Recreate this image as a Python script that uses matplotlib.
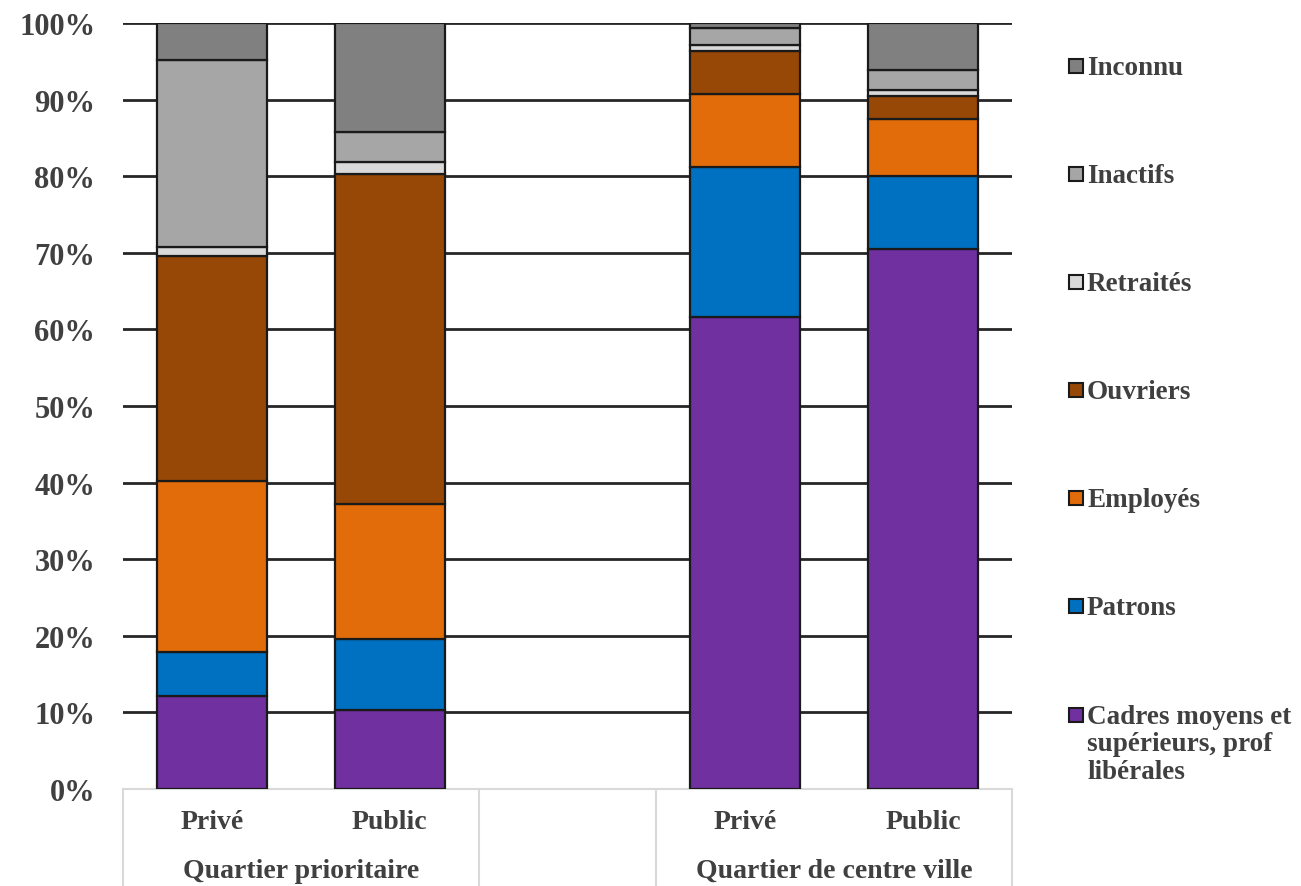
import matplotlib.pyplot as plt
from matplotlib.patches import Rectangle
import numpy as np

# categories (slot 2 is the empty gap between the two groups)
sub_labels = ["Privé", "Public", "", "Privé", "Public"]
group_labels = ["Quartier prioritaire", "Quartier de centre ville"]
slots = [0, 1, 3, 4]

series = ["Cadres moyens et\nsupérieurs, prof\nlibérales", "Patrons", "Employés",
          "Ouvriers", "Retraités", "Inactifs", "Inconnu"]
colors = ["#7030A0", "#0070C0", "#E36C0A", "#974706", "#D9D9D9", "#A6A6A6", "#808080"]

# percentages per bar: prioritaire privé, prioritaire public, centre privé, centre public
cadres = [12.1, 10.3, 61.6, 70.5]
patrons = [5.8, 9.3, 19.6, 9.5]
employes = [22.3, 17.6, 9.5, 7.5]
ouvriers = [29.4, 43.1, 5.6, 3.0]
retraites = [1.2, 1.6, 0.8, 0.8]
inactifs = [24.4, 3.9, 2.2, 2.5]
inconnu = [4.8, 14.2, 0.7, 6.2]

values = np.array([cadres, patrons, employes, ouvriers, retraites, inactifs, inconnu])
values = values / values.sum(axis=0) * 100

txt = "#404040"
font = "Liberation Serif"

fig = plt.figure(figsize=(13.01, 8.87), dpi=100)
W, H = 1301, 887
ax = fig.add_axes([123 / W, 1 - 790 / H, (1012 - 123) / W, (790 - 24) / H])

bottom = np.zeros(len(slots))
for vals, col, name in zip(values, colors, series):
    ax.bar(slots, vals, bottom=bottom, width=0.62, color=col, edgecolor="#1a1a1a",
           linewidth=1.6, zorder=3, label=name)
    bottom += vals

ax.set_xlim(-0.5, 4.5)
ax.set_ylim(0, 100)
ax.set_yticks(np.arange(0, 101, 10))
ax.set_yticklabels([f"{v}%" for v in range(0, 101, 10)], fontfamily=font,
                   fontweight="bold", fontsize=22, color=txt)
ax.tick_params(axis="y", length=0, pad=20)
ax.set_xticks([])
ax.yaxis.grid(True, color="#262626", linewidth=2, zorder=0)
for s in ["left", "right", "top"]:
    ax.spines[s].set_visible(False)
ax.spines["bottom"].set_color("#D9D9D9")
ax.spines["bottom"].set_linewidth(1.5)

# multi-level category axis
for xs in [-0.5, 1.5, 2.5, 4.5]:
    ax.plot([xs, xs], [0, -13], color="#D9D9D9", linewidth=1.5, clip_on=False)
for i, lab in enumerate(sub_labels):
    ax.text(i, -4.3, lab, ha="center", va="center", fontfamily=font,
            fontweight="bold", fontsize=20, color=txt)
ax.text(0.5, -10.6, group_labels[0], ha="center", va="center", fontfamily=font,
        fontweight="bold", fontsize=20, color=txt)
ax.text(3.5, -10.6, group_labels[1], ha="center", va="center", fontfamily=font,
        fontweight="bold", fontsize=20, color=txt)

# legend on the right, top entry is the last series
leg_y = [716, 607, 499, 391, 283, 175, 67]
for name, col, y in zip(series, colors, leg_y):
    fig.patches.append(Rectangle(((1069) / W, 1 - (y + 7) / H), 14 / W, 14 / H,
                                 transform=fig.transFigure, facecolor=col,
                                 edgecolor="#1a1a1a", linewidth=1.5))
    fig.text(1087 / W, 1 - (y - 11) / H, name, ha="left", va="top", fontfamily=font,
             fontweight="bold", fontsize=19.5, color=txt, linespacing=1.12)

fig.savefig("out.png", dpi=100)
